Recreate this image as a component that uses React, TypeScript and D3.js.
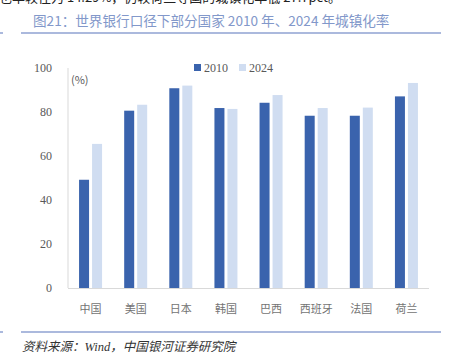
import React from "react";
import * as d3 from "d3";

const categories = ["中国", "美国", "日本", "韩国", "巴西", "西班牙", "法国", "荷兰"];
const series2010 = [49.2, 80.6, 90.8, 81.8, 84.2, 78.3, 78.3, 87.1];
const series2024 = [65.5, 83.3, 92.0, 81.4, 87.7, 81.8, 82.0, 93.2];
const seriesNames = ["2010", "2024"];
const yTicks = [0, 20, 40, 60, 80, 100];

const W = 453;
const H = 363;
const margin = { left: 68, right: 24, top: 68, bottom: 75 };
const colors = ["#3A63AD", "#D0DDF1"];
const cjk = '"Noto Sans CJK SC", "Noto Sans", sans-serif';

export default function App() {
  const x = d3
    .scaleBand<string>()
    .domain(categories)
    .range([margin.left, W - margin.right])
    .paddingInner(0)
    .paddingOuter(0);
  const y = d3.scaleLinear().domain([0, 100]).range([H - margin.bottom, margin.top]);
  const barW = 10;
  const gap = 3;
  const data = [series2010, series2024];

  return (
    <svg
      width={W}
      height={H}
      style={{ position: "absolute", left: 0, top: 0, background: "#fff" }}
      fontFamily={cjk}
    >
      {/* cut-off text at top */}
      <text x={-1} y={1.5} fontSize={13} fill="#222">
        也率较往为 14.29%，仍较荷兰等国的城镇化率低 27.7pct。
      </text>
      <text x={33} y={26} fontSize={13.6} fill="#8298CA">
        图21：世界银行口径下部分国家 2010 年、2024 年城镇化率
      </text>
      <line x1={21} x2={441} y1={33} y2={33} stroke="#8FA2D2" strokeWidth={1.5} />
      <line x1={0} x2={3} y1={33} y2={33} stroke="#8FA2D2" strokeWidth={1.5} />

      {/* y tick labels */}
      {yTicks.map((t) => (
        <text
          key={t}
          x={52}
          y={y(t)}
          dy="0.35em"
          textAnchor="end"
          fontSize={12}
          fill="#595959"
          fontFamily='"Liberation Serif", serif'
        >
          {t}
        </text>
      ))}
      <text x={71} y={80} dy="0.35em" fontSize={11} fill="#595959">
        (%)
      </text>

      {/* bars */}
      {categories.map((c, i) => {
        const cx = (x(c) as number) + x.bandwidth() / 2;
        return data.map((s, k) => {
          const bx = k === 0 ? cx - gap / 2 - barW : cx + gap / 2;
          return (
            <rect
              key={c + k}
              x={bx}
              y={y(s[i])}
              width={barW}
              height={y(0) - y(s[i])}
              fill={colors[k]}
            />
          );
        });
      })}

      {/* axes lines */}
      <line x1={margin.left} x2={margin.left} y1={margin.top} y2={y(0)} stroke="#D9D9D9" strokeWidth={1} />
      <line x1={margin.left} x2={W - margin.right} y1={y(0) + 0.5} y2={y(0) + 0.5} stroke="#D9D9D9" strokeWidth={1} />

      {/* category labels */}
      {categories.map((c) => (
        <text
          key={c}
          x={(x(c) as number) + x.bandwidth() / 2}
          y={309}
          dy="0.35em"
          textAnchor="middle"
          fontSize={11}
          fill="#737373"
        >
          {c}
        </text>
      ))}

      {/* legend */}
      {seriesNames.map((n, k) => (
        <g key={n} transform={`translate(${k === 0 ? 194 : 239},0)`}>
          <rect x={0} y={64} width={7} height={7} fill={colors[k]} />
          <text x={10} y={68} dy="0.35em" fontSize={12} fill="#595959" fontFamily='"Liberation Serif", serif'>
            {n}
          </text>
        </g>
      ))}

      {/* source */}
      <line x1={21} x2={441} y1={332} y2={332} stroke="#8FA2D2" strokeWidth={1.5} />
      <line x1={0} x2={3} y1={332} y2={332} stroke="#8FA2D2" strokeWidth={1.5} />
      <text x={22} y={351} fontSize={12.5} fill="#333" fontStyle="italic">
        资料来源：
        <tspan fontFamily='"Liberation Serif", serif'>Wind</tspan>，中国银河证券研究院
      </text>
    </svg>
  );
}
